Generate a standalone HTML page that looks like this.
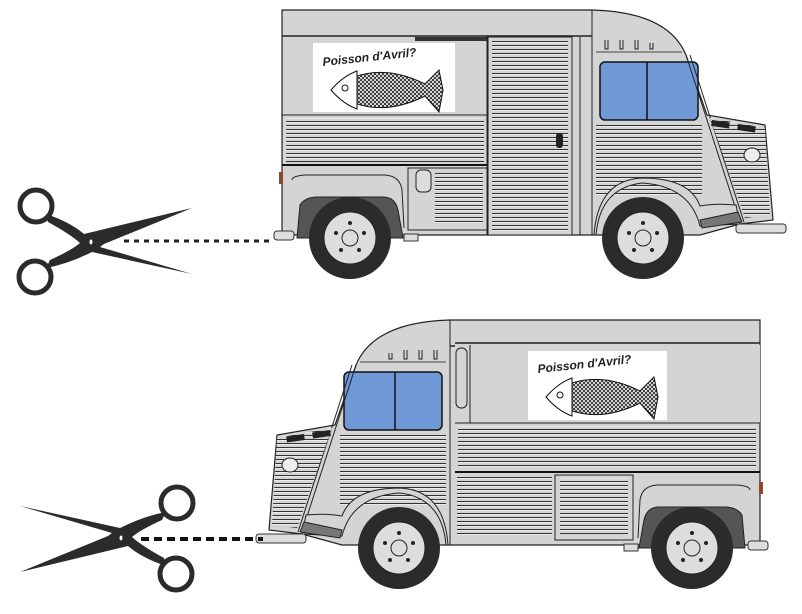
<!DOCTYPE html>
<html><head><style>html,body{margin:0;padding:0;background:#fff}svg{display:block}</style></head>
<body>
<svg width="802" height="614" viewBox="0 0 802 614" xmlns="http://www.w3.org/2000/svg" font-family="Liberation Sans, sans-serif">
<defs>
<pattern id="lv" patternUnits="userSpaceOnUse" width="8" height="4"><rect width="8" height="4" fill="#d4d4d4"/><rect y="1" width="8" height="1.2" fill="#333"/><rect y="2.2" width="8" height="0.8" fill="#fff"/></pattern>
<pattern id="hx" patternUnits="userSpaceOnUse" width="4" height="4"><rect width="4" height="4" fill="#fff"/><path d="M0,0L4,4M4,0L0,4" stroke="#222" stroke-width="0.9"/></pattern>
<g id="wheel">
<circle r="41" fill="#2b2b2b"/><circle r="26" fill="#ddd" stroke="#222"/><circle r="8" fill="#ddd" stroke="#222"/>
<circle cx="0" cy="-15" r="2" fill="#222"/><circle cx="14" cy="-5" r="2" fill="#222"/><circle cx="-14" cy="-5" r="2" fill="#222"/><circle cx="9" cy="12" r="2" fill="#222"/><circle cx="-9" cy="12" r="2" fill="#222"/>
</g>
<g id="fish">
<text x="10" y="22" font-size="12" font-style="italic" font-weight="bold" transform="rotate(-6 10 22)" fill="#222">Poisson d'Avril?</text>
<path d="M18,46 Q60,14 112,40 L126,26 L130,46 L126,68 L112,52 Q60,78 18,46Z" fill="url(#hx)" stroke="#111" stroke-width="1"/>
<path d="M18,46 Q30,32 44,27 L44,65 Q30,60 18,46Z" fill="#fff" stroke="#111"/>
<circle cx="32" cy="44" r="3" fill="none" stroke="#111"/>
</g>
<g id="shell">
<path d="M282,10 H592 Q668,12 686,55 L707,115 L765,125 L773,220 L740,224 L700,235 H282 Z" fill="#d4d4d4" stroke="#222" stroke-width="1.2"/>
<line x1="282" y1="36" x2="592" y2="36" stroke="#222" stroke-width="1.5"/>
<line x1="592" y1="10" x2="592" y2="235" stroke="#222"/>
<line x1="596" y1="52" x2="682" y2="52" stroke="#444"/>
<g stroke="#222" fill="none"><path d="M605,40v9h3v-9M620,40v9h3v-9M635,40v9h3v-9M650,43v6h3v-6"/></g>
<rect x="600" y="62" width="98" height="58" rx="5" fill="#6f98d6" stroke="#111" stroke-width="1.5"/>
<line x1="647" y1="62" x2="647" y2="120" stroke="#111" stroke-width="1.5"/>
<rect x="596" y="124" width="106" height="72" fill="url(#lv)"/>
<path d="M686,55 L740,222 M690,55 L744,222" stroke="#222" fill="none"/>
<path d="M710,118 L765,128 L770,215 L745,218 Z" fill="url(#lv)"/>
<rect x="712" y="120" width="18" height="6" fill="#222" transform="rotate(8 712 120)"/><rect x="738" y="124" width="18" height="6" fill="#222" transform="rotate(8 738 124)"/>
<ellipse cx="752" cy="155" rx="8" ry="7" fill="#eee" stroke="#222"/>
<path d="M596,235 Q600,188 642,183 Q690,186 700,226 L740,224 L736,205 Q715,203 700,206 Q690,178 642,178 Q598,180 594,235Z" fill="#d4d4d4" stroke="#222"/>
<path d="M700,220 L738,212 L742,222 L702,228Z" fill="#777" stroke="#222"/>
<rect x="736" y="224" width="50" height="9" rx="3" fill="#ddd" stroke="#333"/>
<path d="M297,238 L300,205 Q305,197 318,197 H383 Q395,197 398,210 L403,238Z" fill="#555" stroke="#222"/>
<path d="M292,180 Q292,176 305,175 H385 Q400,176 402,190 L404,228" fill="none" stroke="#222"/>
<rect x="274" y="231" width="20" height="9" rx="3" fill="#ddd" stroke="#333"/>
<rect x="404" y="234" width="14" height="7" fill="#ddd" stroke="#333"/>
<rect x="279" y="172" width="4" height="12" fill="#8a4a2a"/>
<use href="#wheel" x="350" y="238"/>
<use href="#wheel" x="643" y="238"/>
</g>
<g id="sc">
<circle cx="36" cy="206" r="16" fill="none" stroke="#2b2b2b" stroke-width="5"/>
<circle cx="35" cy="277" r="16" fill="none" stroke="#2b2b2b" stroke-width="5"/>
<path d="M46,214 Q70,222 84,234 L192,208 L104,244 L100,247 L192,274 L92,252 Q68,264 46,268 L50,260 Q72,250 80,243 Q70,234 48,222Z" fill="#2b2b2b"/>
<ellipse cx="91" cy="242" rx="1.5" ry="2.5" fill="#fff"/>
</g>
</defs>

<!-- top van -->
<use href="#shell"/>
<rect x="313" y="43" width="142" height="69" fill="#fff"/>
<use href="#fish" x="313" y="44"/>
<rect x="415" y="37" width="72" height="4" fill="#333"/>
<rect x="286" y="118" width="198" height="44" fill="url(#lv)"/>
<line x1="282" y1="115" x2="487" y2="115" stroke="#222"/>
<line x1="282" y1="165" x2="487" y2="165" stroke="#111" stroke-width="2"/>
<line x1="487" y1="36" x2="487" y2="235" stroke="#222"/>
<rect x="408" y="168" width="79" height="62" fill="#d4d4d4" stroke="#222"/>
<rect x="435" y="172" width="48" height="52" fill="url(#lv)"/>
<rect x="416" y="170" width="15" height="22" rx="5" fill="#ddd" stroke="#222"/>
<rect x="488" y="37" width="84" height="198" fill="#d4d4d4" stroke="#222"/>
<rect x="492" y="41" width="76" height="192" fill="url(#lv)"/>
<rect x="556" y="133" width="7" height="15" rx="3" fill="#222"/>
<line x1="580" y1="37" x2="580" y2="235" stroke="#222"/>
<line x1="124" y1="241" x2="273" y2="241" stroke="#222" stroke-width="3" stroke-dasharray="5 5"/>
<use href="#sc"/>

<!-- bottom van -->
<use href="#shell" transform="translate(1042,310) scale(-1,1)"/>
<rect x="455" y="345" width="305" height="78" fill="#d4d4d4"/>
<line x1="455" y1="343" x2="760" y2="343" stroke="#222" stroke-width="1.5"/>
<rect x="456" y="348" width="11" height="60" rx="5" fill="none" stroke="#222"/>
<line x1="470" y1="345" x2="470" y2="423" stroke="#222"/>
<rect x="528" y="351" width="139" height="69" fill="#fff"/>
<use href="#fish" x="528" y="351"/>
<line x1="455" y1="423" x2="760" y2="423" stroke="#222"/>
<rect x="458" y="426" width="298" height="42" fill="url(#lv)"/>
<line x1="455" y1="472" x2="760" y2="472" stroke="#111" stroke-width="2"/>
<rect x="457" y="476" width="95" height="60" fill="url(#lv)"/>
<rect x="555" y="475" width="78" height="65" fill="#d4d4d4" stroke="#222"/>
<rect x="560" y="478" width="68" height="56" fill="url(#lv)"/>
<line x1="141" y1="539" x2="263" y2="539" stroke="#111" stroke-width="4" stroke-dasharray="8 5"/>
<use href="#sc" transform="translate(212,780) scale(-1,-1)"/>
</svg>
</body></html>
